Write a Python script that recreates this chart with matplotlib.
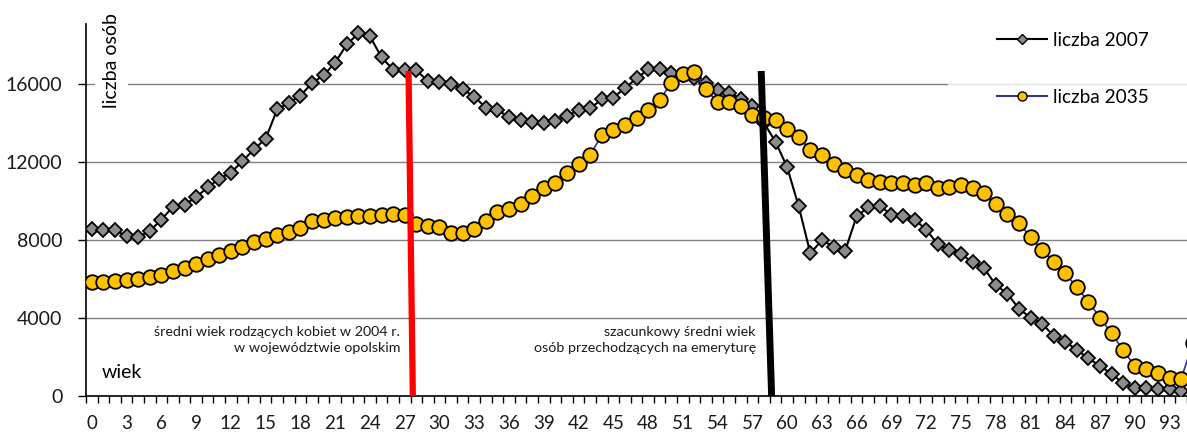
#!/usr/bin/env python3
import numpy as np
import matplotlib
matplotlib.use('Agg')
import matplotlib.pyplot as plt
from matplotlib.lines import Line2D

plt.rcParams['font.family'] = ['Lato', 'DejaVu Sans']

# wiek (age) categories
ages_2007 = list(range(0, 95))
ages_2035 = list(range(0, 96))

liczba_2007 = [
    8550, 8500, 8500, 8200, 8150, 8450, 9050, 9700, 9800, 10200,
    10700, 11150, 11450, 12050, 12650, 13200, 14700, 15030, 15400, 16050,
    16450, 17100, 18030, 18600, 18450, 17370, 16740, 16700, 16700, 16160,
    16080, 16020, 15740, 15350, 14790, 14670, 14310, 14150, 14060, 14010,
    14110, 14360, 14670, 14750, 15210, 15310, 15790, 16290, 16750, 16780,
    16550, 16450, 16300, 16050, 15700, 15550, 15250, 14850, 14000, 13040,
    11730, 9720, 7320, 7990, 7660, 7440, 9230, 9680, 9740, 9300,
    9250, 9050, 8530, 7780, 7470, 7280, 6860, 6550, 5690, 5250,
    4470, 4020, 3710, 3080, 2790, 2360, 1930, 1540, 1130, 650,
    430, 390, 350, 350, 280,
]

liczba_2035 = [
    5850, 5870, 5900, 5950, 6000, 6090, 6200, 6410, 6580, 6770,
    7010, 7230, 7450, 7660, 7910, 8030, 8260, 8430, 8600, 8990,
    9050, 9120, 9170, 9210, 9230, 9280, 9310, 9260, 8800, 8720,
    8670, 8380, 8340, 8550, 9000, 9440, 9580, 9860, 10250, 10680,
    10940, 11450, 11900, 12360, 13380, 13640, 13900, 14240, 14670, 15170,
    16070, 16530, 16630, 15730, 15060, 15090, 14890, 14410, 14240, 14150,
    13690, 13270, 12620, 12360, 11900, 11590, 11330, 11080, 10990, 10940,
    10950, 10820, 10940, 10650, 10730, 10820, 10680, 10390, 9860, 9340,
    8880, 8140, 7490, 6890, 6290, 5570, 4840, 4010, 3210, 2340,
    1540, 1410, 1160, 930, 890, 2700,
]

# marker lines: (age, value) at top and bottom
birth_age_line = ([27.33, 27.7], [16670, 0])
retire_age_line = ([57.76, 58.66], [16670, 0])

yticks = [0, 4000, 8000, 12000, 16000]
xticks = list(range(0, 94, 3))


def main():
    fig = plt.figure(figsize=(11.87, 4.32), dpi=100)
    ax = fig.add_axes([86 / 1187, 36 / 432, 1101 / 1187, 372 / 432])

    ax.plot(ages_2007, liczba_2007, color='black', lw=1.5, marker='D', ms=7.2,
            mfc='#8c8c8c', mec='black', mew=1.3, zorder=3)
    ax.plot(ages_2035, liczba_2035, color='#333399', lw=1.2, marker='o', ms=10.5,
            mfc='#ffc000', mec='black', mew=1.3, zorder=4)

    ax.plot(*birth_age_line, color='#ff0000', lw=4.5, solid_capstyle='butt', zorder=6)
    ax.plot(*retire_age_line, color='black', lw=5, solid_capstyle='butt', zorder=6)

    ax.set_xlim(-0.5, 94.3)
    ax.set_ylim(0, 19080)

    ax.set_yticks(yticks)
    ax.set_yticklabels([str(v) for v in yticks], fontsize=14, color='#1a1a1a')
    ax.tick_params(axis='y', length=6, width=1, pad=11)
    ax.yaxis.grid(True, color='#808080', lw=1)
    ax.set_axisbelow(True)

    ax.set_xticks(xticks)
    ax.set_xticklabels([str(v) for v in xticks], fontsize=13.5, color='#1a1a1a')
    ax.set_xticks(np.arange(-0.5, 95, 1), minor=True)
    ax.tick_params(axis='x', which='major', length=0, pad=14)
    ax.tick_params(axis='x', which='minor', length=5, width=1)

    for side in ('top', 'right'):
        ax.spines[side].set_visible(False)
    for side in ('left', 'bottom'):
        ax.spines[side].set_linewidth(1.2)

    ax.text(1.7, 19650, 'liczba osób', rotation=90, ha='center', va='top',
            fontsize=14, clip_on=False, zorder=7,
            bbox=dict(facecolor='white', edgecolor='none', pad=6))
    ax.text(0.85, 1200, 'wiek', ha='left', va='center', fontsize=14)

    ax.text(26.6, 2880, 'średni wiek rodzących kobiet w 2004 r.\nw województwie opolskim',
            ha='right', va='center', multialignment='right', fontsize=10.3,
            linespacing=1.35, color='#1a1a1a')
    ax.text(57.3, 2880, 'szacunkowy średni wiek\nosób przechodzących na emeryturę',
            ha='right', va='center', multialignment='right', fontsize=10.3,
            linespacing=1.35, color='#1a1a1a')

    handles = [
        Line2D([], [], color='black', lw=1.5, marker='D', ms=5,
               mfc='#8c8c8c', mec='black', mew=1),
        Line2D([], [], color='#333399', lw=1.5, marker='o', ms=6.5,
               mfc='#ffc000', mec='black', mew=1),
    ]
    leg = ax.legend(handles, ['liczba 2007', 'liczba 2035'], loc='upper left',
                    bbox_to_anchor=(948 / 1187, 1 + 17 / 432),
                    bbox_transform=fig.transFigure, borderaxespad=0,
                    frameon=True, fancybox=False, fontsize=13.7,
                    borderpad=2.55, labelspacing=2.12, handlelength=2.65,
                    handletextpad=0.3)
    leg.get_frame().set_facecolor('white')
    leg.get_frame().set_edgecolor('none')
    leg.set_zorder(5)

    fig.savefig('out.png', dpi=100)


if __name__ == '__main__':
    main()
